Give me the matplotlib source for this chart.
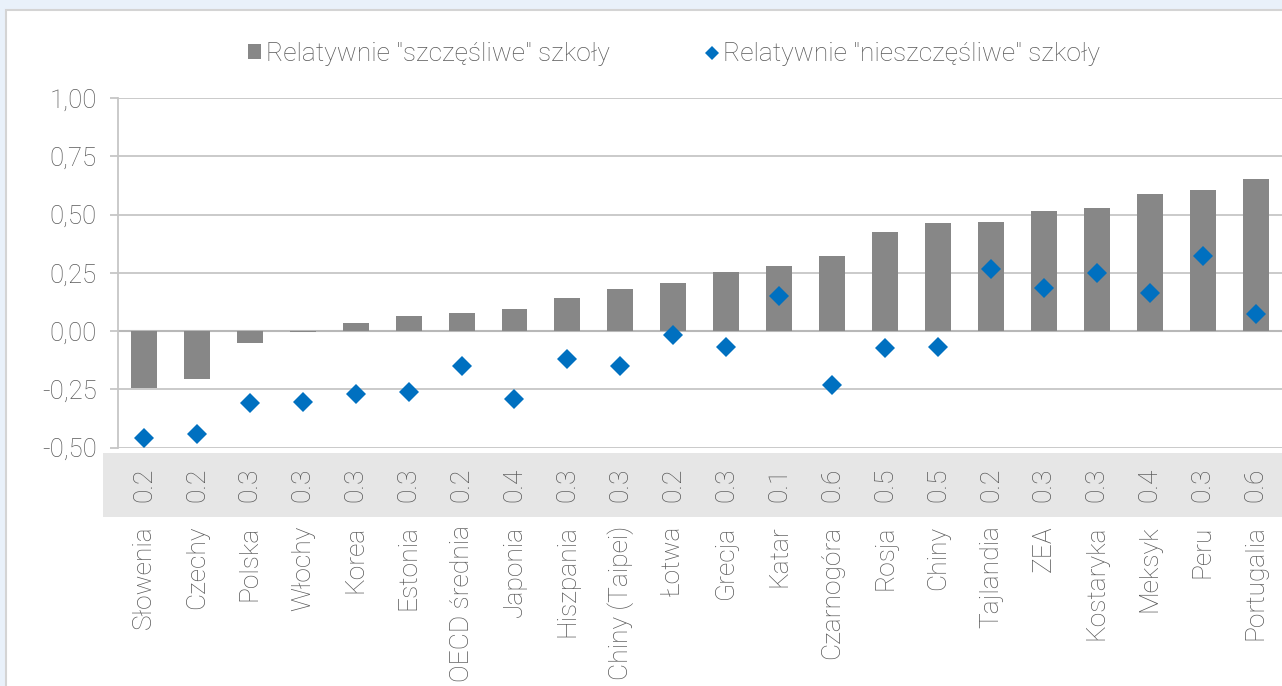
import numpy as np
import matplotlib
matplotlib.use('Agg')
import matplotlib.pyplot as plt
from matplotlib.patches import Rectangle, Patch
from matplotlib.lines import Line2D
from matplotlib.ticker import FuncFormatter
import matplotlib.transforms as mtransforms

countries = ['Słowenia', 'Czechy', 'Polska', 'Włochy', 'Korea', 'Estonia',
             'OECD średnia', 'Japonia', 'Hiszpania', 'Chiny (Taipei)', 'Łotwa',
             'Grecja', 'Katar', 'Czarnogóra', 'Rosja', 'Chiny', 'Tajlandia',
             'ZEA', 'Kostaryka', 'Meksyk', 'Peru', 'Portugalia']
happy = [-0.243, -0.206, -0.051, -0.004, 0.036, 0.066, 0.076, 0.097, 0.140,
         0.181, 0.206, 0.252, 0.279, 0.323, 0.424, 0.462, 0.468, 0.514,
         0.527, 0.587, 0.604, 0.652]
unhappy = [-0.458, -0.443, -0.307, -0.303, -0.271, -0.261, -0.149, -0.293,
           -0.120, -0.150, -0.018, -0.069, 0.149, -0.232, -0.074, -0.067,
           0.266, 0.186, 0.248, 0.162, 0.323, 0.073]
band_vals = ['0.2', '0.2', '0.3', '0.3', '0.3', '0.3', '0.2', '0.4', '0.3',
             '0.3', '0.2', '0.3', '0.1', '0.6', '0.5', '0.5', '0.2', '0.3',
             '0.3', '0.4', '0.3', '0.6']

label_happy = 'Relatywnie "szczęśliwe" szkoły'
label_unhappy = 'Relatywnie "nieszczęśliwe" szkoły'

bar_color = '#878787'
dot_color = '#0070C0'
text_color = '#595959'
grid_color = '#C6C6C6'

plt.rcParams['font.family'] = ['Roboto', 'DejaVu Sans']
plt.rcParams['font.weight'] = 'light'

W, H = 1282, 686
fig = plt.figure(figsize=(W / 100, H / 100), dpi=100)
fig.patch.set_facecolor('#E9F1FA')

# white panel with thin grey border
fig.patches.append(Rectangle((6 / W, -0.1), 1.2, (H - 10) / H + 0.1,
                             transform=fig.transFigure, facecolor='white',
                             edgecolor='#D4D4D4', lw=1.5, zorder=0))
# grey band for the numbers under the axis
fig.patches.append(Rectangle((103 / W, (H - 517) / H), 1.0, 64 / H,
                             transform=fig.transFigure, facecolor='#E6E6E6',
                             edgecolor='none', zorder=1))

ax = fig.add_axes([117.5 / W, (H - 447.7) / H, (W - 117.5) / W, 349.7 / H])
ax.set_facecolor('none')
ax.set_zorder(5)

x = np.arange(len(countries))
ax.bar(x, happy, width=0.49, color=bar_color, zorder=3)
ax.plot(x, unhappy, linestyle='none', marker='D', markersize=10.5,
        color=dot_color, markeredgewidth=0, zorder=4)

ax.set_xlim(-0.5, len(countries) - 0.5)
ax.set_ylim(-0.5, 1.0)
ax.set_yticks([-0.5, -0.25, 0, 0.25, 0.5, 0.75, 1.0])
ax.yaxis.set_major_formatter(FuncFormatter(lambda v, p: f'{v:.2f}'.replace('.', ',')))
ax.grid(axis='y', color=grid_color, lw=1.3, zorder=0)
ax.axhline(0, color='#B8B8B8', lw=1.5, zorder=2)
for s in ['top', 'right', 'bottom']:
    ax.spines[s].set_visible(False)
ax.spines['left'].set_color(grid_color)
ax.spines['left'].set_linewidth(1.3)
ax.tick_params(axis='y', length=6, color=grid_color, width=1.3, pad=9,
               labelsize=18.5, labelcolor=text_color)

ax.set_xticks(x)
ax.set_xticklabels(countries, rotation=90, va='top', ha='center')
ax.tick_params(axis='x', length=0, pad=56, labelsize=19, labelcolor=text_color)

trans = mtransforms.blended_transform_factory(ax.transData, fig.transFigure)
for i, v in enumerate(band_vals):
    ax.text(i, (H - 485) / H, v, transform=trans, rotation=90, ha='center',
            va='center', fontsize=19, color=text_color, clip_on=False)

handles = [Patch(facecolor=bar_color, edgecolor='none', label=label_happy),
           Line2D([], [], linestyle='none', marker='D', markersize=7,
                  color=dot_color, markeredgewidth=0, label=label_unhappy)]
fig.legend(handles=handles, loc='center', bbox_to_anchor=(674 / W, 1 - 54 / H),
           ncol=2, frameon=False, fontsize=19, labelcolor=text_color,
           handlelength=0.5, handleheight=0.5, handletextpad=0.2,
           columnspacing=3.6)

fig.savefig('out.png', dpi=100, facecolor=fig.get_facecolor())
